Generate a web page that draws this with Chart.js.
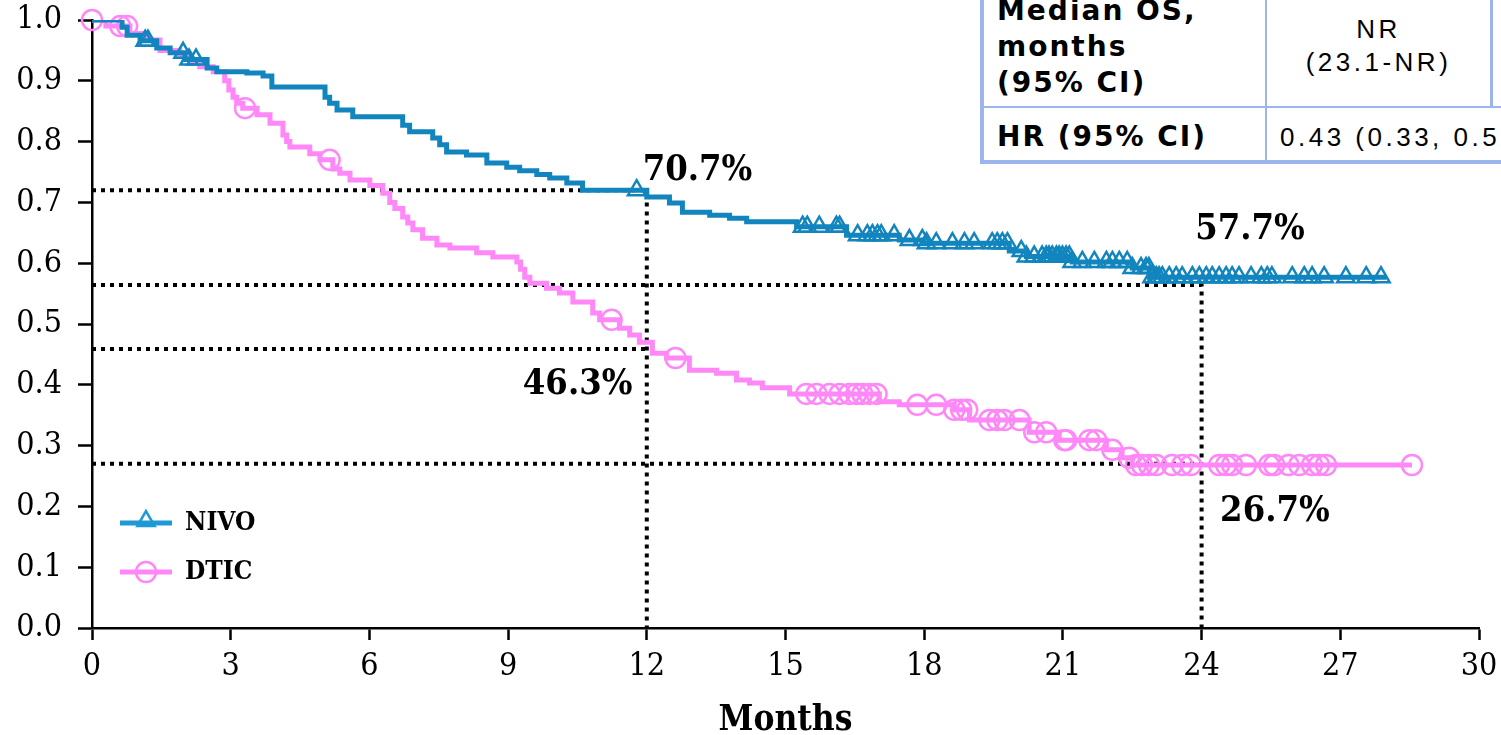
<!DOCTYPE html>
<html>
<head>
<meta charset="utf-8">
<script src="https://cdn.jsdelivr.net/npm/chart.js@4.4.1/dist/chart.umd.min.js"></script>
<style>
html,body{margin:0;padding:0;background:#fff;overflow:hidden;width:1501px;height:735px;}
#wrap{position:relative;width:1501px;height:735px;overflow:hidden;}
#c{position:absolute;left:0;top:0;}
#tbl{position:absolute;left:980px;top:-40px;width:620px;height:200px;border-left:4px solid #9cb5ec;border-bottom:4px solid #9cb5ec;background:#fff;}
.vl{position:absolute;top:0;background:#9cb5ec;}
.hl{position:absolute;left:0;right:0;height:2px;background:#9cb5ec;}
.b{position:absolute;font-family:"DejaVu Sans",sans-serif;font-weight:bold;font-size:28px;line-height:36px;letter-spacing:2px;color:#000;white-space:nowrap;}
.n{position:absolute;font-family:"Liberation Sans",Arial,sans-serif;font-size:26px;line-height:33px;letter-spacing:3.5px;color:#000;white-space:nowrap;}
</style>
</head>
<body>
<div id="wrap">
<canvas id="c" width="1501" height="735"></canvas>
<div id="tbl">
  <div class="vl" style="left:281px;width:2px;height:200px;"></div>
  <div class="vl" style="left:506px;width:3px;height:146px;"></div>
  <div class="hl" style="top:146px;"></div>
  <div class="b" style="left:13px;top:33px;">Median OS,<br>months<br>(95% CI)</div>
  <div class="b" style="left:13px;top:159px;">HR (95% CI)</div>
  <div class="n" style="left:283px;width:223px;text-align:center;top:53px;">NR<br>(23.1-NR)</div>
  <div class="n" style="left:296px;top:161px;">0.43 (0.33, 0.52)</div>
</div>
</div>
<script>
// ---------- data ----------
const seriesNames = ['NIVO', 'DTIC'];
const xTicks = [0, 3, 6, 9, 12, 15, 18, 21, 24, 27, 30];
const yTicks = [0.0, 0.1, 0.2, 0.3, 0.4, 0.5, 0.6, 0.7, 0.8, 0.9, 1.0];

const nivoTimes = [0, 0.65, 0.76, 1.04, 1.40, 1.69, 2.01, 2.49, 2.70, 3.35, 3.70, 3.89, 5.04, 5.14, 5.30, 5.64, 6.72, 6.87, 7.37, 7.52, 7.67, 8.10, 8.54, 8.97, 9.25, 9.62, 9.90, 10.27, 10.61, 12.00, 12.49, 12.77, 13.36, 13.79, 14.16, 15.24, 16.32, 17.46, 18.00, 19.84, 20.21, 21.20, 22.50, 22.87, 28.0];
const nivoSurv = [1.0, 0.988, 0.975, 0.966, 0.954, 0.946, 0.935, 0.921, 0.915, 0.913, 0.908, 0.890, 0.873, 0.863, 0.852, 0.841, 0.827, 0.816, 0.806, 0.795, 0.783, 0.778, 0.765, 0.758, 0.752, 0.746, 0.740, 0.732, 0.720, 0.709, 0.699, 0.684, 0.679, 0.674, 0.668, 0.660, 0.646, 0.638, 0.633, 0.620, 0.611, 0.602, 0.592, 0.577, 0.577];
const nivoCensor = [1.15, 1.21, 1.97, 2.10, 2.25, 11.78, 15.37, 15.47, 15.73, 16.10, 16.17, 16.56, 16.77, 16.88, 16.99, 17.07, 17.35, 17.68, 17.96, 18.05, 18.26, 18.61, 18.87, 19.08, 19.47, 19.58, 19.69, 19.80, 20.10, 20.21, 20.38, 20.55, 20.64, 20.70, 20.77, 20.86, 20.92, 20.99, 21.07, 21.14, 21.20, 21.42, 21.68, 21.94, 22.07, 22.22, 22.39, 22.50, 22.69, 22.80, 22.86, 22.93, 23.02, 23.08, 23.15, 23.30, 23.45, 23.58, 23.80, 23.95, 24.10, 24.23, 24.38, 24.53, 24.66, 24.81, 25.07, 25.29, 25.42, 25.52, 25.96, 26.22, 26.39, 26.65, 27.12, 27.56, 27.88];

const dticTimes = [0, 0.3, 0.82, 1.19, 1.47, 1.90, 2.12, 2.33, 2.62, 2.87, 2.96, 3.05, 3.13, 3.26, 3.57, 3.85, 4.13, 4.21, 4.28, 4.71, 4.93, 5.21, 5.36, 5.58, 6.01, 6.29, 6.44, 6.55, 6.72, 6.83, 6.94, 7.15, 7.46, 7.74, 8.32, 8.67, 9.19, 9.27, 9.36, 9.47, 9.83, 10.11, 10.40, 10.83, 10.98, 11.41, 11.63, 11.84, 12.12, 12.43, 12.92, 13.51, 13.94, 14.22, 14.50, 15.09, 17.03, 17.46, 18.65, 18.98, 20.27, 20.92, 21.94, 22.28, 22.50, 28.55];
const dticSurv = [1.0, 0.99, 0.978, 0.967, 0.950, 0.940, 0.931, 0.923, 0.915, 0.900, 0.885, 0.873, 0.863, 0.855, 0.844, 0.830, 0.811, 0.800, 0.791, 0.780, 0.770, 0.755, 0.748, 0.737, 0.728, 0.715, 0.700, 0.690, 0.676, 0.666, 0.655, 0.641, 0.630, 0.625, 0.617, 0.610, 0.602, 0.590, 0.577, 0.567, 0.559, 0.551, 0.536, 0.518, 0.507, 0.493, 0.482, 0.470, 0.452, 0.444, 0.424, 0.419, 0.408, 0.403, 0.395, 0.385, 0.372, 0.367, 0.359, 0.342, 0.322, 0.309, 0.293, 0.280, 0.268, 0.268];
const dticCensor = [0.0, 0.61, 0.76, 3.31, 5.14, 11.24, 12.62, 15.45, 15.67, 15.95, 16.17, 16.38, 16.53, 16.66, 16.81, 16.97, 17.85, 18.26, 18.65, 18.80, 18.93, 19.41, 19.58, 19.73, 20.06, 20.38, 20.64, 21.03, 21.07, 21.57, 21.72, 22.07, 22.43, 22.58, 22.71, 22.86, 23.02, 23.36, 23.58, 23.77, 24.38, 24.53, 24.66, 24.96, 25.46, 25.57, 25.88, 26.11, 26.39, 26.54, 26.69, 28.55];

const landmarkMonths = [12, 24];
const nivoLandmark = [0.72, 0.564];
const dticLandmark = [0.459, 0.27];
const landmarkLabels = ['70.7%', '57.7%', '46.3%', '26.7%'];

// ---------- helpers ----------
const BLUE = '#1285BE', PINK = '#FF87F7', BLUE_LEG = '#1E9AD6';
const SERIF = "'DejaVu Serif Condensed','DejaVu Serif',serif";
function survAt(times, surv, t) {
  let s = surv[0];
  for (let i = 0; i < times.length; i++) { if (times[i] <= t) s = surv[i]; else break; }
  return s;
}
const curve = (times, surv) => times.map((t, i) => ({x: t, y: surv[i]}));
const censors = (c, times, surv) => c.map(t => ({x: t, y: survAt(times, surv, t)}));
const guide = (m, v, vertical) => vertical ? [{x: 0, y: v}, {x: m, y: v}, {x: m, y: 0}] : [{x: 0, y: v}, {x: m, y: v}];

const dotted = {type: 'scatter', showLine: true, borderColor: '#000', borderWidth: 4, borderDash: [4, 5], pointRadius: 0, fill: false, order: 5};

const datasets = [
  {label: seriesNames[0], data: curve(nivoTimes, nivoSurv), showLine: true, stepped: 'before', borderColor: BLUE, borderWidth: 5, pointRadius: 0, fill: false, order: 1},
  {label: seriesNames[0] + ' censored', data: censors(nivoCensor, nivoTimes, nivoSurv), showLine: false, pointStyle: 'triangle', pointRadius: 10, pointBorderWidth: 2.5, pointBorderColor: BLUE, pointBackgroundColor: 'rgba(0,0,0,0)', clip: false, order: 1},
  {label: seriesNames[1], data: curve(dticTimes, dticSurv), showLine: true, stepped: 'before', borderColor: PINK, borderWidth: 5, pointRadius: 0, fill: false, order: 3},
  {label: seriesNames[1] + ' censored', data: censors(dticCensor, dticTimes, dticSurv), showLine: false, pointStyle: 'circle', pointRadius: 10, pointBorderWidth: 2.5, pointBorderColor: PINK, pointBackgroundColor: 'rgba(0,0,0,0)', clip: false, order: 3},
  Object.assign({label: 'g1', data: guide(landmarkMonths[0], nivoLandmark[0], true)}, dotted),
  Object.assign({label: 'g2', data: guide(landmarkMonths[1], nivoLandmark[1], true)}, dotted),
  Object.assign({label: 'g3', data: guide(landmarkMonths[0], dticLandmark[0], false)}, dotted),
  Object.assign({label: 'g4', data: guide(landmarkMonths[1], dticLandmark[1], false)}, dotted)
];

function tri(ctx, x, y, r) {
  ctx.beginPath();
  ctx.moveTo(x, y - r);
  ctx.lineTo(x + 0.866 * r, y + 0.5 * r);
  ctx.lineTo(x - 0.866 * r, y + 0.5 * r);
  ctx.closePath();
  ctx.stroke();
}

const annotPlugin = {
  id: 'annot',
  afterDraw(chart) {
    const ctx = chart.ctx, xs = chart.scales.x, ys = chart.scales.y, ca = chart.chartArea;
    ctx.save();
    ctx.fillStyle = '#000';
    ctx.font = 'bold 36px ' + SERIF;
    ctx.textBaseline = 'middle';
    const pos = [
      {x: 11.91, y: 0.753, a: 'left'},
      {x: 23.86, y: 0.655, a: 'left'},
      {x: 11.69, y: 0.40, a: 'right'},
      {x: 24.4, y: 0.191, a: 'left'}
    ];
    landmarkLabels.forEach((t, i) => {
      ctx.textAlign = pos[i].a;
      ctx.fillText(t, xs.getPixelForValue(pos[i].x), ys.getPixelForValue(pos[i].y));
    });
    const lx = ca.left + 28, ly1 = ca.bottom - 105, ly2 = ca.bottom - 56;
    ctx.lineWidth = 5;
    ctx.strokeStyle = BLUE_LEG;
    ctx.beginPath(); ctx.moveTo(lx, ly1); ctx.lineTo(lx + 52, ly1); ctx.stroke();
    ctx.lineWidth = 2.5;
    tri(ctx, lx + 26, ly1 - 2, 10);
    ctx.lineWidth = 5; ctx.strokeStyle = PINK;
    ctx.beginPath(); ctx.moveTo(lx, ly2); ctx.lineTo(lx + 52, ly2); ctx.stroke();
    ctx.lineWidth = 2.5;
    ctx.beginPath(); ctx.arc(lx + 26, ly2, 10, 0, Math.PI * 2); ctx.stroke();
    ctx.fillStyle = '#000';
    ctx.font = 'bold 26px ' + SERIF;
    ctx.textAlign = 'left';
    ctx.fillText(seriesNames[0], lx + 65, ly1);
    ctx.fillText(seriesNames[1], lx + 65, ly2);
    ctx.restore();
  }
};

new Chart(document.getElementById('c'), {
  type: 'scatter',
  data: {datasets},
  options: {
    responsive: false,
    animation: false,
    events: [],
    layout: {padding: {top: 20, right: 22, left: 0, bottom: 0}},
    plugins: {legend: {display: false}, tooltip: {enabled: false}},
    scales: {
      x: {
        type: 'linear', min: 0, max: 30,
        afterBuildTicks: s => { s.ticks = xTicks.map(v => ({value: v})); },
        afterFit: s => { s.height = 107; s.paddingLeft = 0; s.paddingRight = 0; },
        ticks: {color: '#000', font: {family: SERIF, size: 32}, padding: 7, maxRotation: 0, autoSkip: false, callback: v => String(v)},
        grid: {display: true, drawOnChartArea: false, drawTicks: true, tickLength: 12, tickWidth: 2.5, tickColor: '#000'},
        border: {display: true, color: '#000', width: 2.5},
        title: {display: true, text: 'Months', color: '#000', font: {family: SERIF, size: 35, weight: 'bold', lineHeight: 1}, padding: {top: 0, bottom: -3}}
      },
      y: {
        type: 'linear', min: 0, max: 1,
        afterBuildTicks: s => { s.ticks = yTicks.map(v => ({value: v})); },
        afterFit: s => { s.width = 92; s.paddingTop = 0; s.paddingBottom = 0; },
        ticks: {color: '#000', font: {family: SERIF, size: 32}, padding: 16, autoSkip: false, callback: v => Number(v).toFixed(1)},
        grid: {display: true, drawOnChartArea: false, drawTicks: true, tickLength: 14, tickWidth: 2.5, tickColor: '#000'},
        border: {display: true, color: '#000', width: 2.5}
      }
    }
  },
  plugins: [annotPlugin]
});
</script>
</body>
</html>
